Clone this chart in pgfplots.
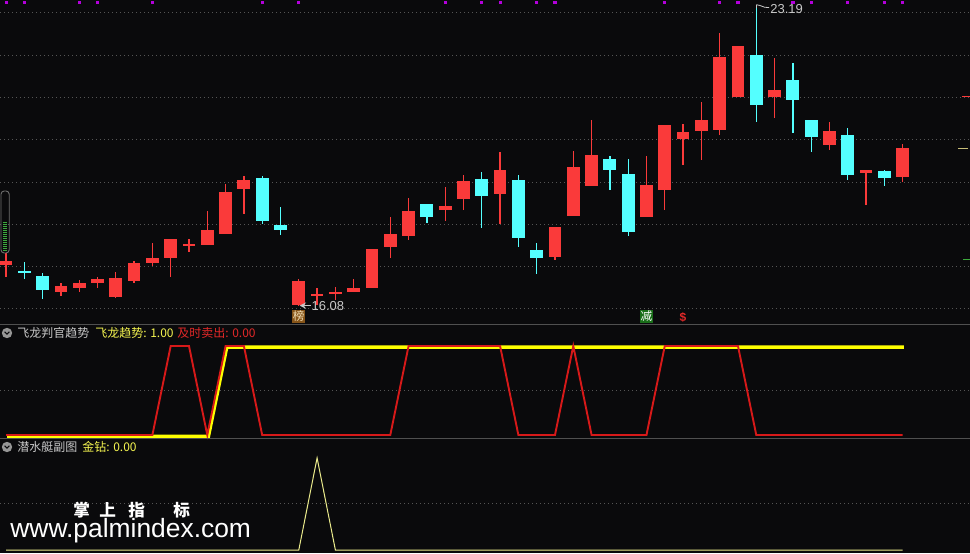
\documentclass[border=0pt]{standalone}
\usepackage{fontspec}
\setmainfont{Liberation Sans}
\newfontfamily\cjk{Noto Sans CJK SC}
\usepackage{pgfplots}
\usepackage{pgfplotstable}
\pgfplotsset{compat=1.18}

\definecolor{bg}{RGB}{10,10,12}
\definecolor{cred}{RGB}{250,58,58}
\definecolor{ccyan}{RGB}{84,255,255}
\definecolor{cgrid}{RGB}{85,85,85}
\definecolor{csep}{RGB}{80,80,80}
\definecolor{ctext}{RGB}{200,200,200}
\definecolor{cline}{RGB}{215,25,25}
\definecolor{cyel}{RGB}{255,255,0}
\definecolor{cpale}{RGB}{235,235,140}
\definecolor{cmag}{RGB}{180,0,220}
\definecolor{cbang}{RGB}{135,85,25}
\definecolor{cbangt}{RGB}{240,220,180}
\definecolor{cjian}{RGB}{25,110,25}
\definecolor{ctred}{RGB}{225,40,40}
\definecolor{ctyel}{RGB}{245,245,80}
\definecolor{cgreen}{RGB}{60,170,60}
\definecolor{cgauge}{RGB}{110,110,110}
\definecolor{cicon}{RGB}{150,150,150}
\definecolor{colive}{RGB}{200,190,120}

\pgfplotstableread{
i o h l c
0 17.04 17.33 16.75 17.14
3 16.41 16.61 16.31 16.54
4 16.50 16.69 16.41 16.61
5 16.62 16.76 16.49 16.70
6 16.28 16.87 16.26 16.73
7 16.67 17.13 16.62 17.09
8 17.09 17.56 17.02 17.20
9 17.20 17.65 16.76 17.65
10 17.50 17.65 17.34 17.54
11 17.52 18.32 17.52 17.87
12 17.76 18.95 17.76 18.76
13 18.84 19.15 18.24 19.05
16 16.09 16.71 16.08 16.66
17 16.33 16.50 16.09 16.35
18 16.35 16.51 16.21 16.40
19 16.41 16.72 16.39 16.50
20 16.50 17.42 16.50 17.42
21 17.47 18.17 17.21 17.77
22 17.73 18.62 17.63 18.32
24 18.35 18.88 18.08 18.43
25 18.60 19.17 18.34 19.02
27 18.71 19.71 18.01 19.28
30 17.23 17.94 17.16 17.94
31 18.20 19.73 18.20 19.35
32 18.91 20.46 18.91 19.64
35 18.17 19.61 18.17 18.94
36 18.82 20.35 18.34 20.35
37 20.02 20.37 19.40 20.18
38 20.21 20.89 19.52 20.46
39 20.24 22.52 20.12 21.95
40 21.01 22.21 21.01 22.21
42 21.01 21.93 20.52 21.18
45 19.88 20.41 19.76 20.21
47 19.22 19.28 18.46 19.28
49 19.12 19.90 19.01 19.80
}\upc

\pgfplotstableread{
i o h l c
1 16.90 17.12 16.70 16.84
2 16.78 16.86 16.23 16.46
14 19.09 19.14 18.00 18.09
15 17.98 18.41 17.75 17.87
23 18.48 18.48 18.02 18.18
26 19.07 19.24 17.92 18.68
28 19.05 19.17 17.46 17.68
29 17.39 17.56 16.83 17.21
33 19.54 19.61 18.81 19.28
34 19.19 19.54 17.72 17.82
41 22.00 23.19 20.42 20.83
43 21.41 21.81 20.16 20.94
44 20.46 20.46 19.72 20.07
46 20.12 20.28 19.04 19.17
48 19.26 19.28 18.91 19.10
}\dnc

\pgfplotsset{
  panel/.style={scale only axis, width=485pt, xmin=-0.328, xmax=52.68,
    clip=false, anchor=south west,
    axis line style={draw=none}, tick style={draw=none}, major tick length=0pt,
    xtick=\empty, yticklabels={}, ymajorgrids,
    grid style={cgrid, line width=0.5pt, dash pattern=on 0.5pt off 1.5pt}},
  wick/.style={draw=none, mark=none, error bars/.cd, y dir=both, y explicit,
    error mark=none, error bar style={line width=0.65pt, draw=#1, solid}},
  body/.style={draw=none, mark=none, error bars/.cd, y dir=both, y explicit,
    error mark=none, error bar style={line width=6.4pt, draw=#1, solid}},
}

\begin{document}
\begin{tikzpicture}
\fill[bg] (0pt,0pt) rectangle (485pt,276.5pt);

% ---------------- main price panel
\begin{axis}[panel, at={(0pt,115pt)}, height=161.5pt,
  ymin=15.669, ymax=23.30, ytick={16,17,18,19,20,21,22,23}]
\addplot[wick=cred] table[x=i, y expr={(\thisrow{h}+\thisrow{l})/2},
  y error expr={(\thisrow{h}-\thisrow{l})/2}] {\upc};
\addplot[body=cred] table[x=i, y expr={(\thisrow{o}+\thisrow{c})/2},
  y error expr={max(abs(\thisrow{c}-\thisrow{o})/2,0.022)}] {\upc};
\addplot[wick=ccyan] table[x=i, y expr={(\thisrow{h}+\thisrow{l})/2},
  y error expr={(\thisrow{h}-\thisrow{l})/2}] {\dnc};
\addplot[body=ccyan] table[x=i, y expr={(\thisrow{o}+\thisrow{c})/2},
  y error expr={max(abs(\thisrow{c}-\thisrow{o})/2,0.022)}] {\dnc};
% top markers
\addplot[only marks, mark=square*, mark size=0.55pt, color=cmag] coordinates {
(0,23.236)(1,23.236)(4,23.236)(5,23.236)(8,23.236)(14,23.236)(16,23.236)
(24,23.236)(26,23.236)(27,23.236)(29,23.236)(30,23.236)(36,23.236)(39,23.236)
(40,23.236)(43,23.236)(44,23.236)(46,23.236)(48,23.236)(49,23.236)};
% annotations
\draw[ctext, line width=0.4pt] (axis cs:41,23.19) -- (axis cs:41,23.10);
\draw[ctext, line width=0.4pt] (axis cs:41,23.19) -- (axis cs:41.2,23.17) -- (axis cs:41.45,23.13) -- (axis cs:41.7,23.12);
\node[anchor=west, inner sep=0pt, text=ctext, font=\fontsize{6.5}{7}\selectfont] at (axis cs:41.75,23.09) {23.19};
\draw[ctext, line width=0.4pt, <-, >=stealth] (axis cs:16.05,16.08) -- (axis cs:16.65,16.08);
\node[anchor=west, inner sep=0pt, text=ctext, font=\fontsize{6.5}{7}\selectfont] at (axis cs:16.68,16.07) {16.08};
\node[fill=cbang, text=cbangt, inner sep=0pt, minimum size=6.5pt, font=\cjk\fontsize{5.8}{6}\selectfont] at (axis cs:16,15.823) {榜};
\node[fill=cjian, text=white, inner sep=0pt, minimum size=6.5pt, font=\cjk\fontsize{5.8}{6}\selectfont] at (axis cs:35,15.823) {减};
\node[text=ctred, inner sep=0pt, font=\bfseries\fontsize{6}{6}\selectfont] at (axis cs:37,15.80) {\$};
\end{axis}

% ---------------- panel 2
\begin{axis}[panel, at={(0pt,57.5pt)}, height=57pt,
  ymin=-0.0337, ymax=1.247, ytick={0.5}]
\addplot[cyel, line width=1.7pt, transform canvas={xshift=0.6pt, yshift=-0.6pt}] coordinates {(0,0)(11,0)(12,1)(49,1)};
\addplot[cline, line width=0.95pt] coordinates {
(0,0)(8,0)(9,1)(10,1)(11,0)(12,1)(13,1)(14,0)(21,0)(22,1)(27,1)(28,0)(30,0)
(31,1)(32,0)(35,0)(36,1)(40,1)(41,0)(49,0)};
\end{axis}

% ---------------- panel 3
\begin{axis}[panel, at={(0pt,0pt)}, height=57.5pt,
  ymin=-0.0326, ymax=1.217, ytick={0.5}]
\addplot[cpale, line width=0.5pt] coordinates {(0,0)(16,0)(17,1)(18,0)(49,0)};
\end{axis}

% separators
\draw[csep, line width=0.5pt] (0pt,114.5pt) -- (485pt,114.5pt);
\draw[csep, line width=0.5pt] (0pt,57.5pt) -- (485pt,57.5pt);

% left gauge
\foreach \yy in {151.5,152.5,...,165.5} {\draw[cgreen, line width=0.5pt] (1.4pt,\yy pt) -- (3.7pt,\yy pt);}
\draw[cgauge, line width=0.45pt, rounded corners=1.6pt] (0.5pt,150pt) rectangle (4.6pt,181pt);

% right markers
\draw[cred, line width=0.5pt] (481pt,228pt) -- (485pt,228pt);
\draw[colive, line width=0.5pt] (479pt,202.5pt) -- (484pt,202.5pt);
\draw[cgreen, line width=0.5pt] (481.5pt,147pt) -- (485pt,147pt);

% panel titles
\fill[cicon] (3.5pt,110pt) circle (2.6pt);
\draw[bg, line width=0.5pt] (2.3pt,110.6pt) -- (3.5pt,109.4pt) -- (4.7pt,110.6pt);
\node[anchor=west, inner sep=0pt, text=ctext, font=\cjk\fontsize{6}{7}\selectfont] at (8.5pt,110pt) {飞龙判官趋势};
\node[anchor=west, inner sep=0pt, text=ctyel, font=\cjk\fontsize{6}{7}\selectfont] at (47.5pt,110pt) {飞龙趋势: 1.00};
\node[anchor=west, inner sep=0pt, text=ctred, font=\cjk\fontsize{6}{7}\selectfont] at (88.5pt,110pt) {及时卖出: 0.00};

\fill[cicon] (3.5pt,53pt) circle (2.6pt);
\draw[bg, line width=0.5pt] (2.3pt,53.6pt) -- (3.5pt,52.4pt) -- (4.7pt,53.6pt);
\node[anchor=west, inner sep=0pt, text=ctext, font=\cjk\fontsize{6}{7}\selectfont] at (8.5pt,53pt) {潜水艇副图};
\node[anchor=west, inner sep=0pt, text=ctyel, font=\cjk\fontsize{6}{7}\selectfont] at (41pt,53pt) {金钻: 0.00};

% watermark
\begin{scope}[every node/.style={anchor=west, inner sep=0pt, text=white, font=\cjk\bfseries\fontsize{8.3}{9}\selectfont}]
\node at (36.5pt,21.5pt) {掌};
\node at (49.5pt,21.5pt) {上};
\node at (64pt,21.5pt) {指};
\node at (86.5pt,21.5pt) {标};
\end{scope}
\node[anchor=base west, inner sep=0pt, text=white, font=\fontsize{13.2}{14}\selectfont] at (5pt,8pt) {www.palmindex.com};

\pgfresetboundingbox
\path[use as bounding box] (0pt,0pt) rectangle (485pt,276.5pt);
\end{tikzpicture}
\end{document}
